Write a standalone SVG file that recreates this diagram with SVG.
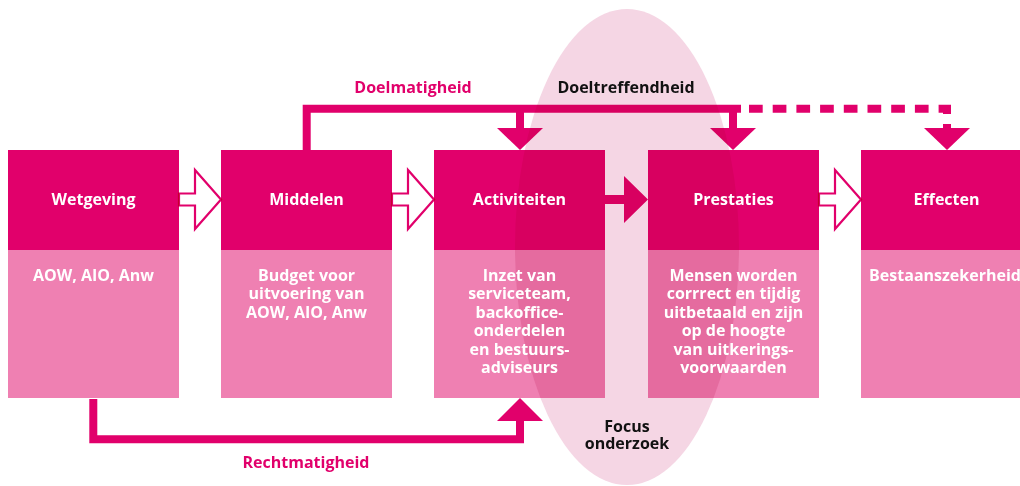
<svg xmlns="http://www.w3.org/2000/svg" width="1020" height="486" viewBox="0 0 1020 486">
<style>
.dark{fill:#e1006b;mix-blend-mode:multiply}
.light{fill:#ef80b2;mix-blend-mode:multiply}
.t{font-family:"Open Sans","Liberation Sans",sans-serif;font-weight:700;fill:#fff;text-anchor:middle}
.title{font-size:16px}
.body{font-size:16px}
.lbl{font-family:"Open Sans","Liberation Sans",sans-serif;font-weight:700;font-size:16px;text-anchor:middle}
.pink{fill:#e1006b}
.blk{fill:#111}
.hollow{fill:#fff;stroke:#e1006b;stroke-width:2.2;stroke-linejoin:miter}
.line{fill:none;stroke:#e1006b;stroke-width:8;stroke-linejoin:miter}
.head{fill:#e1006b}
#connectors{mix-blend-mode:multiply}
</style>
<rect width="1020" height="486" fill="#fff"/>
<ellipse id="focus" cx="627" cy="247" rx="112" ry="238" fill="#f5d6e4"/>
<g id="connectors">
  <path class="hollow" d="M179,193.5 H195 V170 L221,199.5 L195,229 V205.5 H179 Z"/>
  <path class="hollow" d="M392,193.5 H408 V170 L434,199.5 L408,229 V205.5 H392 Z"/>
  <path class="hollow" d="M819,193.5 H835 V170 L861,199.5 L835,229 V205.5 H819 Z"/>
  <path class="head" d="M605,195 H624 V176 L648,199.5 L624,223 V204 H605 Z"/>
  <path class="line" d="M306.7,150 V108.7 H741"/>
  <path class="line" d="M520,108.7 V128"/>
  <path class="line" d="M733,108.7 V128"/>
  <path class="line" d="M749,108.7 H947 V128" stroke-dasharray="13.7 10"/>
  <path class="head" d="M497,128 H543 L520,150 Z"/>
  <path class="head" d="M710,128 H756 L733,150 Z"/>
  <path class="head" d="M924,128 H970 L947,150 Z"/>
  <path class="line" d="M93.3,399 V439.3 H520 V421"/>
  <path class="head" d="M497,421 H543 L520,398 Z"/>
</g>
<g id="wetgeving">
  <rect class="dark" x="8" y="150" width="171" height="100"/>
  <rect class="light" x="8" y="250" width="171" height="148"/>
  <text class="t title" x="93.5" y="205">Wetgeving</text>
  <text class="t body" x="93.5" y="281">AOW, AIO, Anw</text>
</g>
<g id="middelen">
  <rect class="dark" x="221" y="150" width="171" height="100"/>
  <rect class="light" x="221" y="250" width="171" height="148"/>
  <text class="t title" x="306.5" y="205">Middelen</text>
  <text class="t body" x="306.5" y="281">Budget voor<tspan x="306.5" dy="18.4">uitvoering van</tspan><tspan x="306.5" dy="18.4">AOW, AIO, Anw</tspan></text>
</g>
<g id="activiteiten">
  <rect class="dark" x="434" y="150" width="171" height="100"/>
  <rect class="light" x="434" y="250" width="171" height="148"/>
  <text class="t title" x="519.5" y="205">Activiteiten</text>
  <text class="t body" x="519.5" y="281">Inzet van<tspan x="519.5" dy="18.4">serviceteam,</tspan><tspan x="519.5" dy="18.4">backoffice-</tspan><tspan x="519.5" dy="18.4">onderdelen</tspan><tspan x="519.5" dy="18.4">en bestuurs-</tspan><tspan x="519.5" dy="18.4">adviseurs</tspan></text>
</g>
<g id="prestaties">
  <rect class="dark" x="648" y="150" width="171" height="100"/>
  <rect class="light" x="648" y="250" width="171" height="148"/>
  <text class="t title" x="733.5" y="205">Prestaties</text>
  <text class="t body" x="733.5" y="281">Mensen worden<tspan x="733.5" dy="18.4">corrrect en tijdig</tspan><tspan x="733.5" dy="18.4">uitbetaald en zijn</tspan><tspan x="733.5" dy="18.4">op de hoogte</tspan><tspan x="733.5" dy="18.4">van uitkerings-</tspan><tspan x="733.5" dy="18.4">voorwaarden</tspan></text>
</g>
<g id="effecten">
  <rect class="dark" x="861" y="150" width="171" height="100"/>
  <rect class="light" x="861" y="250" width="171" height="148"/>
  <text class="t title" x="946.5" y="205">Effecten</text>
  <text class="t body" x="945" y="281">Bestaanszekerheid</text>
</g>
<g id="labels">
  <text class="lbl pink" x="413" y="93">Doelmatigheid</text>
  <text class="lbl blk" x="626" y="93">Doeltreffendheid</text>
  <text class="lbl pink" x="306" y="468">Rechtmatigheid</text>
  <text class="lbl blk" x="627" y="432">Focus<tspan x="627" dy="17">onderzoek</tspan></text>
</g>
</svg>
